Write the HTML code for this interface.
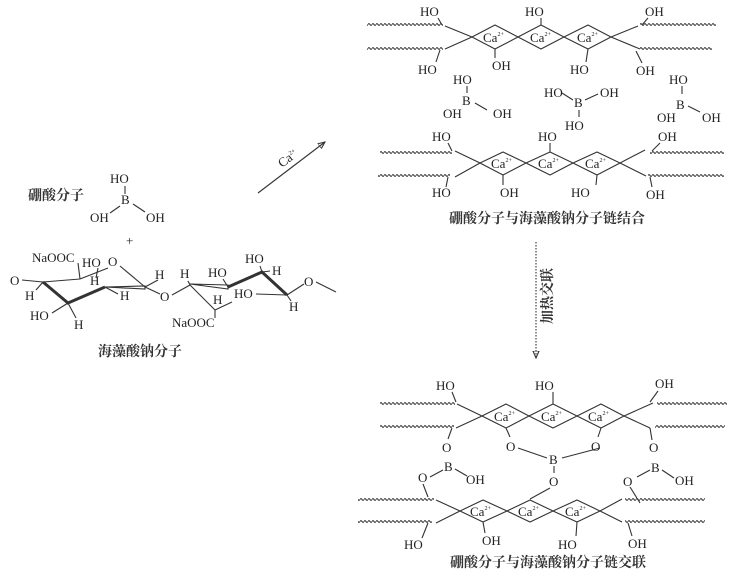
<!DOCTYPE html>
<html><head><meta charset="utf-8"><style>
body{margin:0;background:#fff}
svg{display:block}
text{font-family:"Liberation Serif","Noto Serif CJK SC",serif;fill:#222;font-size:13px}
.cn{font-family:"Liberation Serif","Noto Serif CJK SC",serif;font-size:14px;font-weight:bold;fill:#333}
.s{font-size:6px}
line,polyline,polygon,path{stroke:#333;fill:none;stroke-width:1.1}
</style></head><body>
<svg width="736" height="572" viewBox="0 0 736 572" xmlns="http://www.w3.org/2000/svg">
<defs>
<pattern id="w" width="4" height="5" patternUnits="userSpaceOnUse">
<path d="M0 2.5 Q1 0.8 2 2.5 T4 2.5" stroke="#222" stroke-width="1" fill="none"/>
</pattern>
<marker id="ar" markerWidth="8" markerHeight="8" refX="7" refY="4" orient="auto" markerUnits="userSpaceOnUse">
<path d="M0 1 L7 4 L0 7 z" fill="#222" stroke="none"/>
</marker>
</defs>

<!-- ===== TOP BLOCK ===== -->
<rect x="367" y="0" width="76" height="5" fill="url(#w)" transform="translate(0 22)"/>
<rect x="640" y="0" width="76" height="5" fill="url(#w)" transform="translate(0 22)"/>
<rect x="367" y="0" width="76" height="5" fill="url(#w)" transform="translate(0 46)"/>
<rect x="640" y="0" width="72" height="5" fill="url(#w)" transform="translate(0 46)"/>
<line x1="445" y1="26" x2="472" y2="37"/><line x1="445" y1="49" x2="472" y2="37"/>
<line x1="638" y1="26" x2="611" y2="37"/><line x1="640" y1="49" x2="611" y2="37"/>
<polygon points="472,37 495,25 518,37 495,49"/>
<polygon points="518,37 541,25 564,37 541,49"/>
<polygon points="564,37 588,25 611,37 588,49"/>
<text x="483" y="42">Ca<tspan class="s" dy="-6">2+</tspan></text>
<text x="530" y="42">Ca<tspan class="s" dy="-6">2+</tspan></text>
<text x="577" y="42">Ca<tspan class="s" dy="-6">2+</tspan></text>
<text x="420" y="16">HO</text><line x1="438" y1="18" x2="442" y2="25"/>
<text x="525" y="16">HO</text><line x1="541" y1="18" x2="541" y2="25"/>
<text x="645" y="16">OH</text><line x1="648" y1="18" x2="642" y2="25"/>
<text x="418" y="74">HO</text><line x1="440" y1="50" x2="436" y2="62"/>
<text x="492" y="70">OH</text><line x1="495" y1="49" x2="495" y2="58"/>
<text x="570" y="74">HO</text><line x1="588" y1="49" x2="586" y2="62"/>
<text x="636" y="75">OH</text><line x1="636" y1="51" x2="642" y2="63"/>

<!-- borates -->
<text x="453" y="84">HO</text><line x1="467" y1="86" x2="467" y2="93"/>
<text x="462" y="105">B</text>
<text x="443" y="118">OH</text><line x1="475" y1="103" x2="487" y2="110"/>
<text x="493" y="118">OH</text>

<text x="544" y="97">HO</text><line x1="562" y1="93" x2="573" y2="100"/>
<text x="574" y="107">B</text><line x1="585" y1="100" x2="598" y2="94"/>
<text x="600" y="97">OH</text><line x1="579" y1="110" x2="579" y2="117"/>
<text x="565" y="130">HO</text>

<text x="669" y="84">HO</text><line x1="682" y1="86" x2="682" y2="94"/>
<text x="676" y="109">B</text><line x1="688" y1="106" x2="700" y2="112"/>
<text x="657" y="122">OH</text>
<text x="702" y="122">OH</text>

<!-- second chain pair -->
<rect x="380" y="0" width="72" height="5" fill="url(#w)" transform="translate(0 150)"/>
<rect x="650" y="0" width="74" height="5" fill="url(#w)" transform="translate(0 150)"/>
<rect x="378" y="0" width="72" height="5" fill="url(#w)" transform="translate(0 173)"/>
<rect x="648" y="0" width="76" height="5" fill="url(#w)" transform="translate(0 173)"/>
<line x1="455" y1="151" x2="480" y2="163"/><line x1="455" y1="177" x2="480" y2="163"/>
<line x1="645" y1="150" x2="620" y2="163"/><line x1="646" y1="176" x2="620" y2="163"/>
<polygon points="480,163 503,152 526,163 503,175"/>
<polygon points="526,163 550,152 573,163 550,175"/>
<polygon points="573,163 597,152 620,163 597,175"/>
<text x="491" y="168">Ca<tspan class="s" dy="-6">2+</tspan></text>
<text x="538" y="168">Ca<tspan class="s" dy="-6">2+</tspan></text>
<text x="585" y="168">Ca<tspan class="s" dy="-6">2+</tspan></text>
<text x="432" y="141">HO</text><line x1="448" y1="143" x2="452" y2="151"/>
<text x="538" y="141">HO</text><line x1="550" y1="143" x2="550" y2="152"/>
<text x="658" y="141">OH</text><line x1="660" y1="143" x2="652" y2="151"/>
<text x="432" y="197">HO</text><line x1="448" y1="177" x2="446" y2="187"/>
<text x="500" y="197">OH</text><line x1="503" y1="175" x2="503" y2="185"/>
<text x="571" y="197">HO</text><line x1="597" y1="175" x2="596" y2="185"/>
<text x="646" y="199">OH</text><line x1="650" y1="177" x2="652" y2="187"/>
<text class="cn" x="547" y="223" text-anchor="middle">硼酸分子与海藻酸钠分子链结合</text>

<!-- arrows -->
<line x1="258" y1="193" x2="325" y2="142" marker-end="url(#ar)"/>
<text x="282" y="168" transform="rotate(-37 282 168)" font-size="11">Ca<tspan class="s" dy="-5">2+</tspan></text>
<line x1="536" y1="242" x2="536" y2="358" stroke-dasharray="1.5,1.5" marker-end="url(#ar)"/>
<text class="cn" x="0" y="0" transform="translate(552 296) rotate(-90)" text-anchor="middle" font-weight="normal" font-size="13">加热交联</text>

<!-- ===== LEFT ===== -->
<text class="cn" x="28" y="200">硼酸分子</text>
<text x="110" y="183">HO</text><line x1="125" y1="186" x2="125" y2="194"/>
<text x="121" y="204">B</text>
<text x="90" y="222">OH</text><line x1="110" y1="213" x2="120" y2="206"/>
<text x="146" y="222">OH</text><line x1="133" y1="204" x2="145" y2="212"/>
<text x="126" y="245">+</text>

<text x="32" y="262" font-size="11">NaOOC</text>
<text x="82" y="267" font-size="11">HO</text>
<text x="108" y="266">O</text>
<text x="10" y="285">O</text>
<text x="25" y="300" font-size="11">H</text>
<text x="90" y="285" font-size="11">H</text>
<text x="120" y="300" font-size="11">H</text>
<text x="30" y="320" font-size="11">HO</text>
<text x="74" y="329" font-size="11">H</text>
<line x1="22" y1="280" x2="43" y2="282"/>
<line x1="43" y1="282" x2="80" y2="279"/><line x1="80" y1="279" x2="108" y2="268"/>
<line x1="78" y1="263" x2="80" y2="279"/>
<line x1="98" y1="268" x2="96" y2="278"/>
<line x1="120" y1="266" x2="145" y2="287"/>
<polyline points="43,282 68,303 105,287" style="stroke-width:3"/>
<path d="M105,287 L145,286 L145,289 z" fill="#222" stroke-width="1.2"/>
<line x1="43" y1="282" x2="36" y2="290"/>
<line x1="68" y1="303" x2="52" y2="313"/>
<line x1="68" y1="303" x2="76" y2="318"/>
<line x1="105" y1="287" x2="118" y2="294"/>
<line x1="145" y1="287" x2="158" y2="280"/>
<text x="155" y="279" font-size="11">H</text>
<line x1="145" y1="287" x2="160" y2="294"/>
<text x="160" y="301">O</text>
<line x1="172" y1="295" x2="190" y2="285"/>
<text x="180" y="278" font-size="11">H</text>
<line x1="188" y1="281" x2="190" y2="285"/>
<path d="M190,284 L228,285 L228,289 z" fill="#222" stroke-width="1.2"/>
<polyline points="228,287 262,272 287,295" style="stroke-width:3"/>
<line x1="190" y1="285" x2="215" y2="310"/>
<line x1="215" y1="310" x2="215" y2="318"/>
<line x1="215" y1="310" x2="232" y2="302"/>
<text x="213" y="304" font-size="11">H</text>
<text x="172" y="327" font-size="11">NaOOC</text>
<text x="208" y="277" font-size="11">HO</text><line x1="223" y1="279" x2="228" y2="287"/>
<text x="245" y="263" font-size="11">HO</text><line x1="260" y1="266" x2="262" y2="272"/>
<text x="272" y="275" font-size="11">H</text><line x1="262" y1="272" x2="270" y2="271"/>
<text x="234" y="298" font-size="11">HO</text><line x1="256" y1="294" x2="287" y2="295"/>
<text x="289" y="311" font-size="11">H</text><line x1="287" y1="295" x2="291" y2="301"/>
<line x1="287" y1="295" x2="304" y2="284"/>
<text x="304" y="286">O</text>
<line x1="316" y1="282" x2="336" y2="292"/>
<text class="cn" x="140" y="356" text-anchor="middle">海藻酸钠分子</text>

<!-- ===== BOTTOM BLOCK ===== -->
<rect x="380" y="0" width="75" height="5" fill="url(#w)" transform="translate(0 401)"/>
<rect x="657" y="0" width="70" height="5" fill="url(#w)" transform="translate(0 401)"/>
<rect x="380" y="0" width="74" height="5" fill="url(#w)" transform="translate(0 424)"/>
<rect x="655" y="0" width="70" height="5" fill="url(#w)" transform="translate(0 424)"/>
<line x1="457" y1="404" x2="482" y2="416"/><line x1="456" y1="428" x2="482" y2="416"/>
<line x1="653" y1="403" x2="624" y2="416"/><line x1="650" y1="428" x2="624" y2="416"/>
<polygon points="482,416 506,404 529,416 506,428"/>
<polygon points="529,416 553,404 577,416 553,428"/>
<polygon points="577,416 601,404 624,416 601,428"/>
<text x="494" y="421">Ca<tspan class="s" dy="-6">2+</tspan></text>
<text x="541" y="421">Ca<tspan class="s" dy="-6">2+</tspan></text>
<text x="588" y="421">Ca<tspan class="s" dy="-6">2+</tspan></text>
<text x="436" y="390">HO</text><line x1="452" y1="392" x2="456" y2="402"/>
<text x="535" y="390">HO</text><line x1="553" y1="392" x2="553" y2="404"/>
<text x="655" y="388">OH</text><line x1="658" y1="391" x2="650" y2="402"/>
<line x1="506" y1="428" x2="510" y2="437"/><text x="506" y="451">O</text>
<line x1="601" y1="428" x2="598" y2="437"/><text x="591" y="451">O</text>
<line x1="518" y1="448" x2="547" y2="458"/><line x1="600" y1="448" x2="562" y2="458"/>
<text x="549" y="464">B</text><line x1="554" y1="466" x2="554" y2="473"/>
<text x="549" y="486">O</text>
<line x1="452" y1="428" x2="448" y2="439"/><text x="442" y="452">O</text>
<text x="444" y="471">B</text><line x1="455" y1="469" x2="467" y2="476"/>
<text x="466" y="484">OH</text>
<line x1="443" y1="470" x2="430" y2="477"/><text x="418" y="482">O</text>
<line x1="423" y1="484" x2="428" y2="497"/>
<line x1="650" y1="428" x2="652" y2="440"/><text x="649" y="452">O</text>
<text x="651" y="472">B</text><line x1="662" y1="470" x2="674" y2="478"/>
<text x="675" y="485">OH</text>
<line x1="650" y1="470" x2="637" y2="477"/><text x="623" y="486">O</text>
<line x1="630" y1="487" x2="640" y2="503"/>
<line x1="550" y1="488" x2="530" y2="499"/>

<rect x="358" y="0" width="76" height="5" fill="url(#w)" transform="translate(0 497)"/>
<rect x="625" y="0" width="80" height="5" fill="url(#w)" transform="translate(0 497)"/>
<rect x="358" y="0" width="74" height="5" fill="url(#w)" transform="translate(0 519)"/>
<rect x="625" y="0" width="80" height="5" fill="url(#w)" transform="translate(0 519)"/>
<line x1="436" y1="500" x2="460" y2="511"/><line x1="436" y1="523" x2="460" y2="511"/>
<line x1="622" y1="499" x2="600" y2="511"/><line x1="622" y1="522" x2="600" y2="511"/>
<polygon points="460,511 483,500 507,511 483,522"/>
<polygon points="507,511 530,500 553,511 530,522"/>
<polygon points="553,511 577,500 600,511 577,522"/>
<text x="470" y="516">Ca<tspan class="s" dy="-6">2+</tspan></text>
<text x="518" y="516">Ca<tspan class="s" dy="-6">2+</tspan></text>
<text x="565" y="516">Ca<tspan class="s" dy="-6">2+</tspan></text>
<text x="404" y="549">HO</text><line x1="428" y1="523" x2="422" y2="538"/>
<text x="482" y="545">OH</text><line x1="483" y1="522" x2="485" y2="533"/>
<text x="558" y="549">HO</text><line x1="577" y1="522" x2="576" y2="536"/>
<text x="628" y="548">OH</text><line x1="628" y1="523" x2="632" y2="536"/>
<text class="cn" x="548" y="567" text-anchor="middle">硼酸分子与海藻酸钠分子链交联</text>
</svg>
</body></html>
